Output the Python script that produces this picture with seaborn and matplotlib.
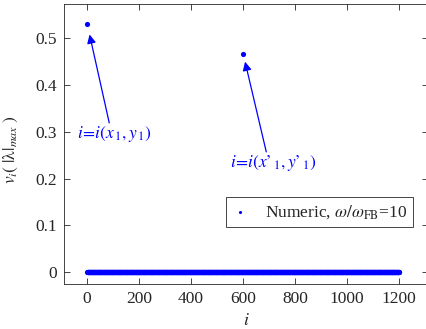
import numpy as np
import pandas as pd
import matplotlib
matplotlib.use("Agg")
import matplotlib.pyplot as plt
import seaborn as sns

# Eigenvector components of the largest-|lambda| mode over lattice sites
n_sites = 1200
peak_sites = [1, 601]
peak_values = [0.531, 0.467]
peak_labels = [r"$i\!=\!i(x_{\,1},y_{\,1})$",
               "$i\\!=\\!i(x\u2019_{\\,1},y\u2019_{\\,1})$"]
x_ticks = [0, 200, 400, 600, 800, 1000, 1200]
y_ticks = [0, 0.1, 0.2, 0.3, 0.4, 0.5]
series_label = r"Numeric, $\omega/\omega_{\mathrm{FB}}$=10"

site_index = np.arange(1, n_sites + 1)
component = np.zeros(n_sites)
for s, v in zip(peak_sites, peak_values):
    component[s - 1] = v
df = pd.DataFrame({"i": site_index, "v": component})

sns.set_theme(style="ticks")
plt.rcParams["font.family"] = "serif"
plt.rcParams["font.serif"] = ["Liberation Serif", "DejaVu Serif"]
plt.rcParams["mathtext.fontset"] = "stix"
ink = "#262626"

W, H = 427, 329
fig = plt.figure(figsize=(W / 100, H / 100), dpi=100)
ax = fig.add_axes([64 / W, (H - 284.3) / H, 364 / W, 280.3 / H])

sns.scatterplot(data=df, x="i", y="v", color="blue", s=14, linewidth=0,
                label=series_label, ax=ax, zorder=3)

ax.set_xlim(-88, 1312)
ax.set_ylim(-0.026, 0.573)
ax.set_xticks(x_ticks)
ax.set_yticks(y_ticks)
ax.set_yticklabels(["0", "0.1", "0.2", "0.3", "0.4", "0.5"])
ax.tick_params(direction="in", length=4, width=0.6, color=ink, labelcolor=ink,
               labelsize=12.5, top=True, right=True, pad=5)
for sp in ax.spines.values():
    sp.set_visible(True)
    sp.set_color(ink)
    sp.set_linewidth(0.6)

ax.set_xlabel(r"$i$", fontsize=13, color=ink)
ax.set_ylabel(r"$v_i(\;|\mathrm{\lambda}|_{max}\;)$", fontsize=12.5, color=ink)
ax.xaxis.set_label_coords(0.5, -0.10)
ax.yaxis.set_label_coords(-0.121, 0.479)

# Arrows pointing at the two localized peaks
text_pos = [(-37, 0.287), (551, 0.225)]
tail_pos = [(86, 0.319), (690, 0.257)]
shrink = [8, 6]
for s, v, lab, tp, tl, sh in zip(peak_sites, peak_values, peak_labels,
                                  text_pos, tail_pos, shrink):
    ax.annotate("", xy=(s, v), xytext=tl,
                arrowprops=dict(arrowstyle="-|>", color="blue", lw=0.9,
                                mutation_scale=13, shrinkA=0, shrinkB=sh))
    ax.text(tp[0], tp[1], lab, color="blue", fontsize=12.5, ha="left",
            va="baseline")

leg = ax.legend(loc="upper right", bbox_to_anchor=(0.959, 0.311),
                borderaxespad=0, fancybox=False, framealpha=1,
                edgecolor=ink, fontsize=12.5, markerscale=0.6,
                handlelength=1.0, handletextpad=0.9, borderpad=0.35)
leg.get_frame().set_linewidth(0.6)

fig.savefig("out.png", dpi=100)
